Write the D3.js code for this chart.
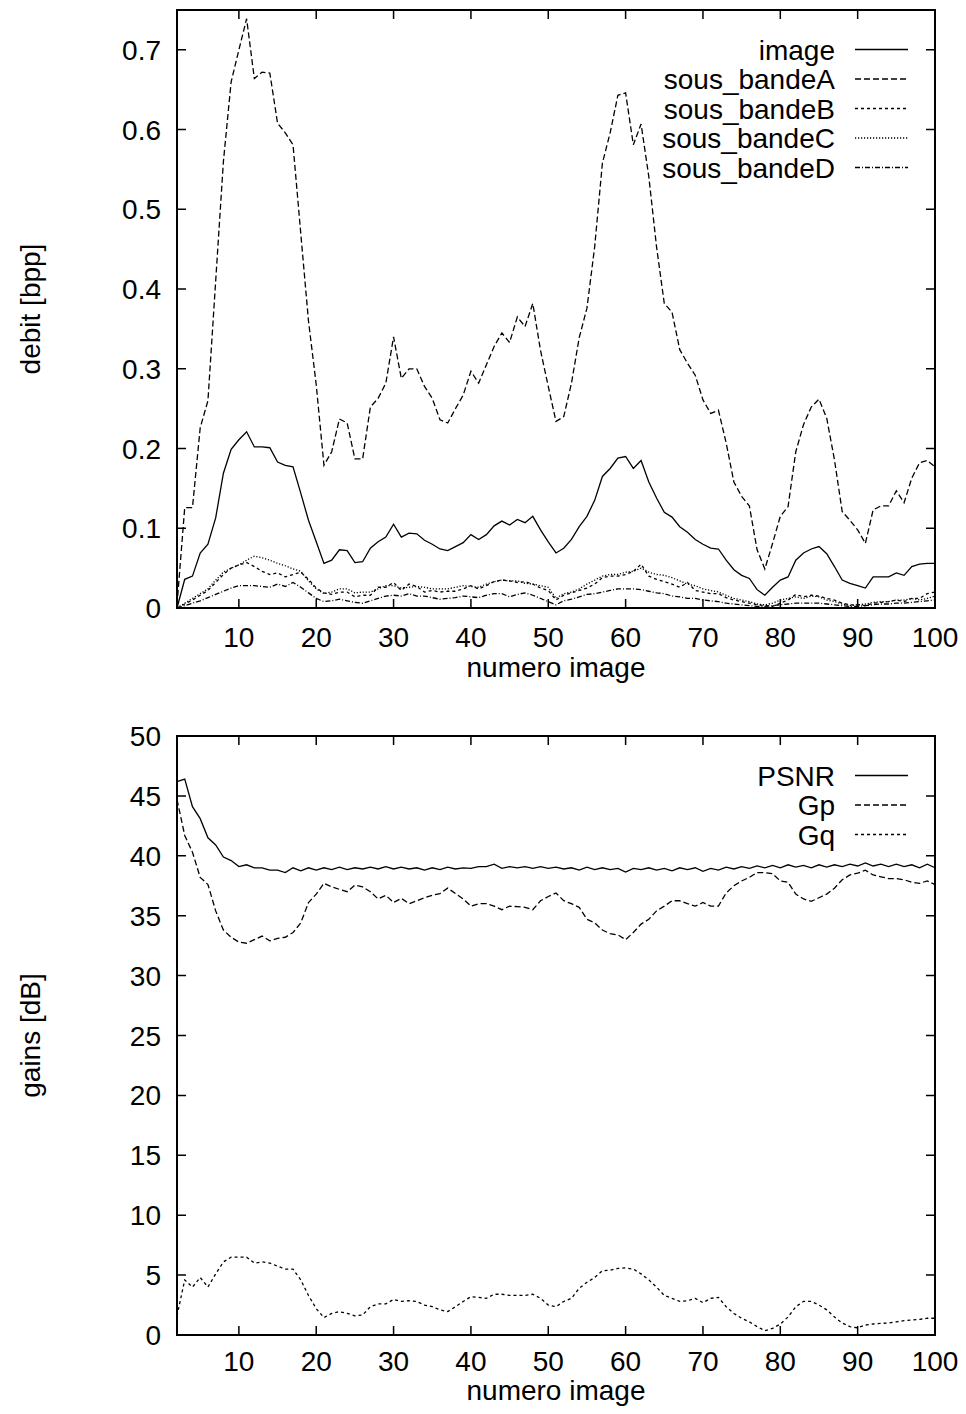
<!DOCTYPE html>
<html>
<head>
<style>
body { margin: 0; background: #fff; font-family: "Liberation Sans", Arial, sans-serif; }
</style>
</head>
<body>
<script src="https://cdnjs.cloudflare.com/ajax/libs/d3/7.8.5/d3.min.js"></script>
<script>
// frame numbers 2..100
var frames = d3.range(2, 101);

var image = [0.0,0.036,0.040,0.069,0.080,0.113,0.169,0.199,0.211,0.221,0.202,0.202,0.201,0.183,0.179,0.177,0.144,0.110,0.083,0.056,0.060,0.073,0.072,0.057,0.058,0.075,0.083,0.089,0.105,0.089,0.094,0.093,0.085,0.080,0.074,0.072,0.077,0.082,0.092,0.086,0.092,0.103,0.109,0.104,0.111,0.107,0.115,0.098,0.083,0.069,0.075,0.086,0.102,0.115,0.135,0.165,0.175,0.188,0.190,0.175,0.185,0.158,0.138,0.120,0.114,0.102,0.095,0.086,0.080,0.075,0.074,0.060,0.048,0.041,0.037,0.023,0.016,0.026,0.035,0.039,0.060,0.069,0.074,0.077,0.068,0.052,0.035,0.031,0.028,0.025,0.039,0.039,0.039,0.044,0.041,0.052,0.055,0.056,0.056];

var bandeA = [0.004,0.126,0.126,0.226,0.26,0.41,0.56,0.66,0.70,0.739,0.664,0.672,0.671,0.608,0.596,0.581,0.47,0.36,0.28,0.179,0.196,0.237,0.232,0.187,0.187,0.252,0.263,0.282,0.34,0.288,0.30,0.30,0.278,0.263,0.236,0.232,0.25,0.267,0.297,0.282,0.305,0.328,0.345,0.333,0.365,0.353,0.382,0.323,0.278,0.234,0.24,0.282,0.339,0.376,0.453,0.558,0.596,0.643,0.646,0.581,0.607,0.541,0.453,0.382,0.371,0.324,0.307,0.292,0.261,0.244,0.248,0.207,0.158,0.14,0.128,0.073,0.049,0.081,0.115,0.127,0.196,0.23,0.252,0.262,0.238,0.186,0.121,0.11,0.098,0.081,0.123,0.128,0.128,0.147,0.132,0.163,0.182,0.185,0.177];

var bandeB = [0.0,0.005,0.010,0.016,0.022,0.032,0.042,0.050,0.054,0.057,0.052,0.046,0.042,0.044,0.039,0.042,0.045,0.036,0.025,0.019,0.017,0.020,0.020,0.014,0.016,0.016,0.026,0.026,0.032,0.022,0.030,0.027,0.020,0.022,0.020,0.021,0.021,0.024,0.028,0.024,0.028,0.033,0.035,0.034,0.032,0.033,0.030,0.025,0.022,0.010,0.016,0.019,0.022,0.025,0.030,0.038,0.040,0.040,0.042,0.046,0.055,0.040,0.036,0.033,0.030,0.026,0.032,0.022,0.020,0.018,0.018,0.013,0.010,0.008,0.006,0.004,0.003,0.002,0.006,0.010,0.017,0.014,0.016,0.015,0.012,0.010,0.006,0.004,0.004,0.003,0.006,0.007,0.008,0.010,0.008,0.012,0.012,0.018,0.020];

var bandeC = [0.0,0.006,0.012,0.018,0.024,0.035,0.045,0.050,0.054,0.060,0.065,0.063,0.060,0.056,0.053,0.049,0.046,0.034,0.024,0.018,0.020,0.024,0.024,0.019,0.020,0.020,0.024,0.028,0.028,0.025,0.026,0.027,0.026,0.024,0.024,0.024,0.026,0.028,0.027,0.026,0.030,0.033,0.035,0.034,0.034,0.031,0.030,0.028,0.026,0.012,0.018,0.020,0.024,0.030,0.035,0.040,0.042,0.042,0.045,0.046,0.050,0.045,0.042,0.041,0.038,0.034,0.030,0.028,0.024,0.022,0.020,0.016,0.012,0.010,0.008,0.005,0.004,0.006,0.010,0.012,0.014,0.012,0.015,0.014,0.010,0.008,0.005,0.003,0.004,0.005,0.007,0.008,0.008,0.010,0.010,0.012,0.010,0.012,0.015];

var bandeD = [0.0,0.003,0.006,0.009,0.013,0.017,0.021,0.025,0.028,0.028,0.028,0.027,0.026,0.030,0.027,0.032,0.026,0.019,0.012,0.008,0.009,0.011,0.009,0.007,0.006,0.009,0.012,0.015,0.016,0.015,0.018,0.015,0.015,0.013,0.011,0.012,0.013,0.015,0.014,0.013,0.016,0.018,0.018,0.014,0.017,0.019,0.016,0.012,0.008,0.004,0.009,0.011,0.014,0.017,0.018,0.020,0.022,0.024,0.024,0.024,0.023,0.021,0.019,0.018,0.015,0.014,0.012,0.012,0.010,0.009,0.008,0.006,0.005,0.004,0.003,0.002,0.002,0.003,0.004,0.005,0.006,0.006,0.006,0.006,0.005,0.004,0.003,0.002,0.002,0.003,0.004,0.005,0.005,0.006,0.006,0.007,0.008,0.009,0.010];

var psnr = [46.2,46.4,44.1,43.1,41.5,40.9,39.9,39.6,39.1,39.25,39.0,39.0,38.8,38.8,38.6,39.0,38.75,39.0,38.8,39.0,38.85,39.05,38.85,39.0,38.9,39.05,38.9,39.1,38.9,39.05,38.9,39.0,38.8,39.0,38.85,39.05,38.9,39.0,38.95,39.1,39.1,39.3,38.95,39.1,39.0,39.1,38.95,39.1,38.95,39.05,38.9,39.0,38.8,39.05,38.85,39.0,38.85,38.95,38.65,38.95,38.85,39.0,38.8,38.95,38.75,39.0,38.85,39.0,38.7,38.95,38.8,39.05,38.9,39.1,38.95,39.15,39.0,39.2,39.0,39.25,39.05,39.2,39.0,39.25,39.05,39.25,39.1,39.3,39.15,39.4,39.15,39.3,39.1,39.3,39.1,39.25,39.0,39.3,39.0];

var gp = [44.7,41.7,40.3,38.2,37.6,35.4,33.8,33.2,32.8,32.7,33.0,33.3,32.9,33.1,33.2,33.6,34.4,36.1,36.8,37.7,37.4,37.2,37.0,37.55,37.4,37.0,36.4,36.7,36.1,36.45,36.0,36.25,36.5,36.7,36.85,37.3,36.85,36.4,35.8,36.0,36.0,35.8,35.5,35.8,35.75,35.7,35.5,36.25,36.6,36.9,36.25,36.0,35.7,34.7,34.4,33.8,33.5,33.4,33.0,33.6,34.3,34.7,35.4,35.8,36.25,36.25,36.0,35.8,36.1,35.8,35.8,36.9,37.5,37.9,38.2,38.6,38.6,38.5,37.9,37.8,36.8,36.4,36.2,36.5,36.8,37.3,38.0,38.4,38.55,38.8,38.4,38.25,38.1,38.1,38.0,37.8,37.7,37.9,37.6];

var gq = [1.6,4.6,4.0,4.8,4.0,5.1,6.1,6.5,6.5,6.5,6.0,6.1,6.0,5.75,5.5,5.5,4.6,3.3,2.2,1.45,1.8,1.95,1.8,1.6,1.67,2.36,2.6,2.6,2.97,2.8,2.86,2.8,2.5,2.36,2.1,1.95,2.36,2.8,3.2,3.14,3.06,3.4,3.4,3.3,3.3,3.3,3.4,3.06,2.5,2.36,2.8,3.06,3.9,4.4,4.8,5.36,5.4,5.56,5.6,5.5,5.1,4.6,4.0,3.3,3.06,2.8,2.86,3.06,2.7,3.06,3.14,2.36,1.8,1.4,1.1,0.7,0.36,0.55,0.92,1.5,2.36,2.8,2.8,2.5,2.1,1.5,1.0,0.7,0.6,0.83,0.92,0.97,1.0,1.1,1.2,1.25,1.3,1.4,1.4];

var xTicks = [10, 20, 30, 40, 50, 60, 70, 80, 90, 100];
var topTicks = [0, 0.1, 0.2, 0.3, 0.4, 0.5, 0.6, 0.7];
var botTicks = [0, 5, 10, 15, 20, 25, 30, 35, 40, 45, 50];

var topSeries = [
  {name: "image", values: image, dash: null},
  {name: "sous_bandeA", values: bandeA, dash: "6,3"},
  {name: "sous_bandeB", values: bandeB, dash: "3,3"},
  {name: "sous_bandeC", values: bandeC, dash: "1.2,1.8"},
  {name: "sous_bandeD", values: bandeD, dash: "5,2,1,2"}
];
var botSeries = [
  {name: "PSNR", values: psnr, dash: null},
  {name: "Gp", values: gp, dash: "6,3"},
  {name: "Gq", values: gq, dash: "3,3"}
];

var W = 966, H = 1414;
var FS = "28px";
var svg = d3.select("body").append("svg")
    .attr("width", W)
    .attr("height", H);

function panel(opts) {
  var x = d3.scaleLinear().domain([2, 100]).range([177, 935]);
  var y = d3.scaleLinear().domain(opts.domain).range([opts.bottom, opts.top]);
  var g = svg.append("g");

  // ticks on all four sides, inward
  var tl = 9;
  g.selectAll(".xt").data(xTicks).enter().append("path")
      .attr("d", function(d) { return "M" + x(d) + "," + opts.bottom + "v" + (-tl) + "M" + x(d) + "," + opts.top + "v" + tl; })
      .attr("stroke", "#000").attr("stroke-width", 1.5);
  g.selectAll(".yt").data(opts.ticks).enter().append("path")
      .attr("d", function(d) { return "M177," + y(d) + "h" + tl + "M935," + y(d) + "h" + (-tl); })
      .attr("stroke", "#000").attr("stroke-width", 1.5);

  g.selectAll(".xl").data(xTicks).enter().append("text")
      .attr("x", function(d) { return x(d); })
      .attr("y", opts.bottom + opts.tickOff)
      .attr("text-anchor", "middle")
      .style("font-size", FS)
      .text(function(d) { return d; });
  g.selectAll(".yl").data(opts.ticks).enter().append("text")
      .attr("x", 161)
      .attr("y", function(d) { return y(d) + 10; })
      .attr("text-anchor", "end")
      .style("font-size", FS)
      .text(opts.fmt);

  g.append("text")
      .attr("x", 556).attr("y", opts.bottom + opts.titleOff)
      .attr("text-anchor", "middle")
      .style("font-size", FS)
      .text("numero image");
  g.append("text")
      .attr("transform", "translate(40," + ((opts.top + opts.bottom) / 2) + ") rotate(-90)")
      .attr("text-anchor", "middle")
      .style("font-size", FS)
      .text(opts.ylabel);

  var line = d3.line()
      .x(function(d, i) { return x(frames[i]); })
      .y(function(d) { return y(d); });

  g.selectAll(".series").data(opts.series).enter().append("path")
      .attr("d", function(s) { return line(s.values); })
      .attr("fill", "none")
      .attr("stroke", "#000")
      .attr("stroke-width", 1.3)
      .attr("stroke-dasharray", function(s) { return s.dash; });

  // legend
  var lg = g.selectAll(".leg").data(opts.series).enter().append("g")
      .attr("transform", function(s, i) { return "translate(0," + (opts.top + 39.5 + i * 29.5) + ")"; });
  lg.append("text")
      .attr("x", 835).attr("y", 10)
      .attr("text-anchor", "end")
      .style("font-size", FS)
      .text(function(s) { return s.name; });
  lg.append("path")
      .attr("d", "M855,0H908")
      .attr("fill", "none")
      .attr("stroke", "#000")
      .attr("stroke-width", 1.3)
      .attr("stroke-dasharray", function(s) { return s.dash; });

  g.append("rect")
      .attr("x", 177).attr("y", opts.top)
      .attr("width", 935 - 177).attr("height", opts.bottom - opts.top)
      .attr("fill", "none").attr("stroke", "#000").attr("stroke-width", 2);
}

panel({top: 10, bottom: 608, domain: [0, 0.75], ticks: topTicks,
       fmt: function(d) { return d === 0 ? "0" : d3.format(".1f")(d); },
       ylabel: "debit [bpp]", series: topSeries, tickOff: 39, titleOff: 69});
panel({top: 736, bottom: 1335, domain: [0, 50], ticks: botTicks,
       fmt: function(d) { return d; },
       ylabel: "gains [dB]", series: botSeries, tickOff: 36, titleOff: 65});
</script>
</body>
</html>
